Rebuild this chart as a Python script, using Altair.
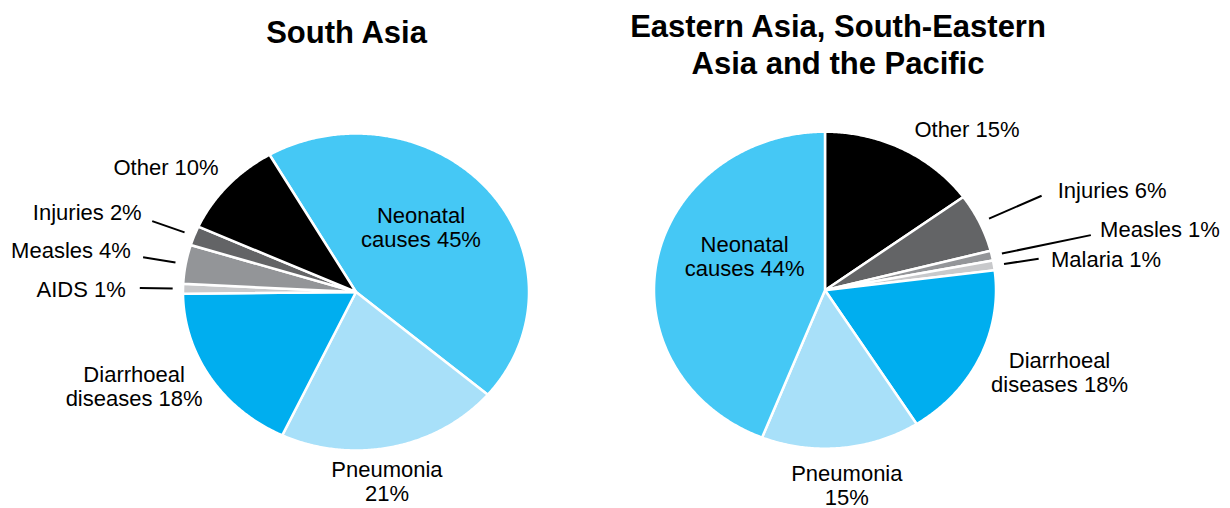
import math
import altair as alt
import pandas as pd

# ---------------- data ----------------
south_causes = ["Neonatal causes", "Pneumonia", "Diarrhoeal diseases", "AIDS",
                "Measles", "Injuries", "Other"]
south_values = [45, 21, 18, 1, 4, 2, 10]
south_labels = ["Neonatal\ncauses 45%", "Pneumonia\n21%", "Diarrhoeal\ndiseases 18%",
                "AIDS 1%", "Measles 4%", "Injuries 2%", "Other 10%"]

east_causes = ["Other", "Injuries", "Measles", "Malaria", "Diarrhoeal diseases",
               "Pneumonia", "Neonatal causes"]
east_values = [15, 6, 1, 1, 18, 15, 44]
east_labels = ["Other 15%", "Injuries 6%", "Measles 1%", "Malaria 1%",
               "Diarrhoeal\ndiseases 18%", "Pneumonia\n15%", "Neonatal\ncauses 44%"]

cause_names = ["Neonatal causes", "Pneumonia", "Diarrhoeal diseases", "AIDS",
               "Malaria", "Measles", "Injuries", "Other"]
cause_colors = ["#45C8F5", "#A8E0F9", "#00AEEF", "#C8C9CB",
                "#C8C9CB", "#939598", "#636466", "#000000"]

# ---------------- layout (not data) ----------------
FONT = "Liberation Sans"
TOP = 88.5            # page y of plot-area top (titles above)
H = 420               # plot height
W_LEFT, W_RIGHT = 600, 610
LINE_H = 24.5
# label layout per slice: (radius in pie radii, angle nudge deg, align, leader)
south_layout = [(0.551, -7.2, "center", False), (1.213, 3.7, "center", False),
                (1.416, 7.6, "center", False), (1.331, -0.6, "right", True),
                (1.326, 1.05, "right", True), (1.336, 1.2, "right", True),
                (1.113, 2.3, "right", False)]
east_layout = [(1.14, 0.3, "left", False), (1.497, 0.6, "left", True),
               (1.653, -0.7, "left", True), (1.335, 0.9, "left", True),
               (1.468, -4.3, "center", False), (1.243, -0.5, "center", False),
               (0.515, 13.3, "center", False)]
south_leader_end = {3: 1.25, 4: 1.25, 5: 1.26}
east_leader_end = {1: 1.40, 2: 1.593, 3: 1.265}


def build_tables(causes, values, labels, start_deg, layout, leader_end):
    total = sum(values)
    rows, lab_rows, lead_rows = [], [], []
    acc = 0
    for k, (c, v) in enumerate(zip(causes, values)):
        a0 = start_deg + 360.0 * acc / total
        acc += v
        a1 = start_deg + 360.0 * acc / total
        n = max(2, int(math.ceil((a1 - a0) / 0.5)))
        pts = [(0.0, 0.0)]
        for j in range(n + 1):
            t = math.radians(a0 + (a1 - a0) * j / n)
            pts.append((math.sin(t), math.cos(t)))
        pts.append((0.0, 0.0))
        for i, (x, y) in enumerate(pts):
            rows.append({"cause": c, "x": x, "y": y, "i": i})
        mid = (a0 + a1) / 2
        r, nudge, align, leader = layout[k]
        t = math.radians(mid + nudge)
        lab_rows.append({"label": labels[k], "x": r * math.sin(t),
                         "y": r * math.cos(t), "align": align,
                         "lines": labels[k].count("\n") + 1})
        if leader:
            tm = math.radians(mid)
            for j, rr in enumerate([1.06, leader_end[k]]):
                lead_rows.append({"label": labels[k], "x": rr * math.sin(tm),
                                  "y": rr * math.cos(tm), "j": j})
    return pd.DataFrame(rows), pd.DataFrame(lab_rows), pd.DataFrame(lead_rows)


def panel(causes, values, labels, start_deg, layout, leader_end,
          rx, ry, cx_page, cy_page, x0_page, W, title):
    slices, labs, leads = build_tables(causes, values, labels, start_deg,
                                       layout, leader_end)
    cx = cx_page - x0_page
    cy = cy_page - TOP
    xs = alt.Scale(domain=[-cx / rx, (W - cx) / rx], nice=False, zero=False)
    ys = alt.Scale(domain=[-(H - cy) / ry, cy / ry], nice=False, zero=False)
    X = alt.X("x:Q", scale=xs, axis=None)
    Y = alt.Y("y:Q", scale=ys, axis=None)

    pie = alt.Chart(slices).mark_line(
        filled=True, stroke="white", strokeWidth=2.5, strokeJoin="miter"
    ).encode(
        x=X, y=Y, order=alt.Order("i:Q"),
        color=alt.Color("cause:N", scale=alt.Scale(domain=cause_names,
                                                   range=cause_colors),
                        legend=None),
    )
    leaders = alt.Chart(leads).mark_line(color="black", strokeWidth=2).encode(
        x=X, y=Y, detail="label:N", order=alt.Order("j:Q"))
    layers = [pie, leaders]
    for align in ["center", "left", "right"]:
        for nl in [1, 2]:
            sub = labs[(labs["align"] == align) & (labs["lines"] == nl)]
            if len(sub):
                layers.append(alt.Chart(sub).mark_text(
                    align=align, baseline="middle", font=FONT, fontSize=22,
                    lineBreak="\n", lineHeight=LINE_H, color="black",
                    dy=-(nl - 1) * LINE_H / 2
                ).encode(x=X, y=Y, text="label:N"))
    return alt.layer(*layers).properties(width=W, height=H, title=title)


left_title = alt.TitleParams(
    text="South Asia", font=FONT, fontSize=31, fontWeight="bold",
    color="black", anchor="middle", dx=38.5, offset=39.7)
right_title = alt.TitleParams(
    text=["Eastern Asia, South-Eastern", "Asia and the Pacific"], font=FONT,
    fontSize=31, fontWeight="bold", color="black", anchor="middle",
    dx=-75, offset=9, lineHeight=37.3)

left = panel(south_causes, south_values, south_labels, -30, south_layout,
             south_leader_end, 173, 158.5, 356, 290.5, 8, W_LEFT, left_title)
right = panel(east_causes, east_values, east_labels, 0, east_layout,
              east_leader_end, 171, 158.5, 825, 288.7, 8 + W_LEFT, W_RIGHT,
              right_title)

chart = alt.hconcat(left, right, spacing=0, bounds="flush",
                    padding={"left": 0, "right": 0, "top": 3, "bottom": 0}
                    ).configure_view(stroke=None)

chart.save("out.html", embed_options={"renderer": "svg", "actions": False})
